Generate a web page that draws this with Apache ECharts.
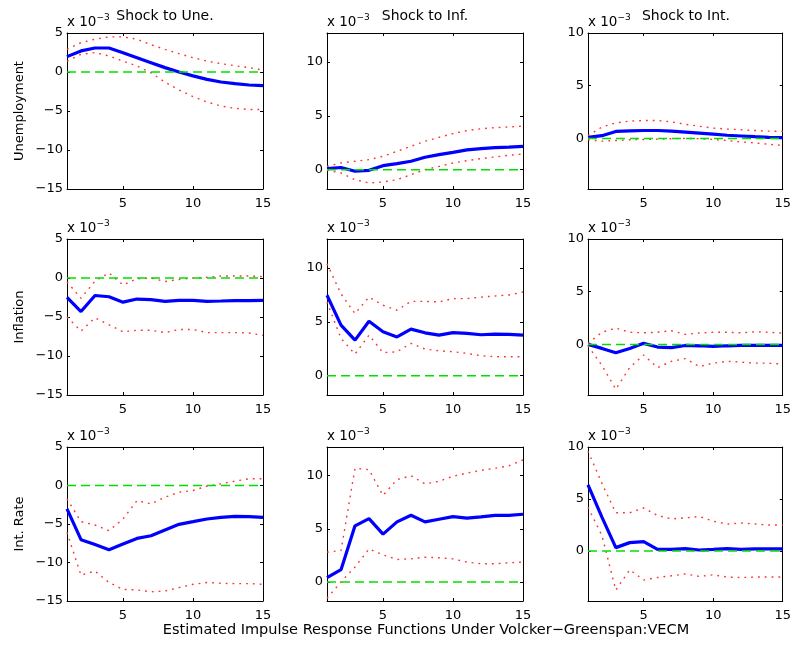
<!DOCTYPE html>
<html>
<head>
<meta charset="utf-8">
<script src="https://cdn.jsdelivr.net/npm/echarts@6/dist/echarts.min.js"></script>
<style>
html, body { margin: 0; padding: 0; background: #fff; }
#chart { width: 794px; height: 648px; }
</style>
</head>
<body>
<div id="chart"></div>
<script>
const FONT = '"DejaVu Sans", Verdana, sans-serif'

const horizon = [1, 2, 3, 4, 5, 6, 7, 8, 9, 10, 11, 12, 13, 14, 15]
const xTicks = [5, 10, 15]
const rowNames = ['Unemployment', 'Inflation', 'Int. Rate']
const shockNames = ['Shock to Une.', 'Shock to Inf.', 'Shock to Int.']
const caption = 'Estimated Impulse Response Functions Under Volcker\u2212Greenspan:VECM'
// y ticks / limits per column (values are x 10^-3)
const yTicks = [[-15, -10, -5, 0, 5], [0, 5, 10], [0, 5, 10]]
const yLimits = [[-15, 5], [-1.8, 12.7], [-4.8, 10]]
const zeroRef = [0, 0, 0, 0, 0, 0, 0, 0, 0, 0, 0, 0, 0, 0, 0]

// response of Unemployment
const uneUneMid = [1.97, 2.7, 3.08, 3.08, 2.48, 1.84, 1.2, 0.56, 0.0, -0.5, -0.94, -1.28, -1.5, -1.67, -1.75]
const uneUneHi  = [2.9, 3.76, 4.2, 4.5, 4.5, 4.2, 3.5, 2.9, 2.35, 1.84, 1.4, 1.07, 0.8, 0.55, 0.25]
const uneUneLo  = [1.4, 2.26, 2.5, 2.05, 1.4, 0.77, -0.1, -1.3, -2.3, -3.16, -3.85, -4.36, -4.66, -4.8, -4.8]
const uneInfMid = [0.1, 0.2, -0.15, -0.06, 0.37, 0.56, 0.78, 1.15, 1.4, 1.61, 1.83, 1.96, 2.05, 2.1, 2.17]
const uneInfHi  = [0.3, 0.62, 0.78, 0.93, 1.24, 1.7, 2.17, 2.64, 3.0, 3.35, 3.63, 3.8, 3.9, 3.97, 4.04]
const uneInfLo  = [-0.06, -0.3, -0.93, -1.24, -1.15, -0.93, -0.47, 0.0, 0.3, 0.62, 0.84, 1.02, 1.18, 1.33, 1.46]
const uneIntMid = [0.1, 0.26, 0.66, 0.72, 0.75, 0.75, 0.69, 0.6, 0.5, 0.4, 0.3, 0.23, 0.16, 0.1, 0.07]
const uneIntHi  = [0.26, 1.08, 1.48, 1.64, 1.7, 1.7, 1.57, 1.34, 1.15, 0.98, 0.89, 0.82, 0.75, 0.69, 0.66]
const uneIntLo  = [-0.13, -0.26, -0.2, -0.13, -0.1, -0.07, -0.03, 0.0, -0.03, -0.1, -0.2, -0.33, -0.43, -0.56, -0.66]

// response of Inflation
const infUneMid = [-2.48, -4.3, -2.24, -2.4, -3.1, -2.7, -2.78, -2.99, -2.86, -2.86, -2.99, -2.95, -2.9, -2.9, -2.86]
const infUneHi  = [-0.5, -2.6, -0.4, 0.65, -0.9, -0.1, 0.0, -0.45, -0.2, 0.0, 0.09, 0.26, 0.26, 0.26, 0.17]
const infUneLo  = [-5.0, -6.8, -5.1, -6.0, -6.9, -6.7, -6.7, -7.0, -6.6, -6.6, -7.0, -7.0, -7.0, -7.05, -7.35]
const infInfMid = [7.47, 4.7, 3.3, 5.06, 4.07, 3.6, 4.32, 3.98, 3.77, 4.0, 3.92, 3.8, 3.86, 3.83, 3.77]
const infInfHi  = [10.4, 7.6, 5.77, 7.3, 6.54, 6.08, 6.9, 6.9, 6.85, 7.16, 7.16, 7.3, 7.4, 7.5, 7.77]
const infInfLo  = [6.85, 3.46, 2.0, 3.77, 2.13, 2.22, 3.0, 2.47, 2.31, 2.22, 2.07, 1.85, 1.76, 1.76, 1.76]
const infIntMid = [0.0, -0.38, -0.8, -0.38, 0.1, -0.25, -0.3, -0.1, -0.13, -0.18, -0.13, -0.1, -0.1, -0.1, -0.1]
const infIntHi  = [0.1, 1.15, 1.55, 1.15, 1.1, 1.15, 1.3, 0.95, 1.08, 1.15, 1.15, 1.1, 1.2, 1.15, 1.08]
const infIntLo  = [-0.13, -2.0, -4.25, -2.2, -1.0, -2.2, -1.6, -1.35, -2.1, -1.78, -1.6, -1.68, -1.78, -1.78, -1.87]

// response of Int. Rate
const intUneMid = [-3.04, -7.04, -7.65, -8.35, -7.6, -6.87, -6.52, -5.78, -5.04, -4.7, -4.35, -4.13, -4.0, -4.04, -4.13]
const intUneHi  = [-1.74, -4.7, -5.13, -5.87, -4.35, -1.96, -2.39, -1.52, -0.87, -0.65, -0.09, 0.22, 0.57, 0.87, 0.87]
const intUneLo  = [-6.09, -11.65, -11.1, -12.6, -13.5, -13.56, -13.8, -13.7, -13.26, -12.83, -12.6, -12.7, -12.74, -12.74, -12.83]
const intInfMid = [0.4, 1.15, 5.28, 5.96, 4.5, 5.65, 6.27, 5.65, 5.9, 6.15, 6.0, 6.12, 6.27, 6.27, 6.37]
const intInfHi  = [2.8, 2.95, 10.7, 10.56, 8.14, 9.63, 10.0, 9.22, 9.47, 9.94, 10.25, 10.5, 10.7, 10.93, 11.49]
const intInfLo  = [-1.55, 0.0, 1.4, 3.1, 2.55, 2.11, 2.17, 2.33, 2.27, 2.17, 1.86, 1.71, 1.71, 1.8, 1.86]
const intIntMid = [6.35, 3.26, 0.33, 0.81, 0.91, 0.16, 0.16, 0.23, 0.1, 0.16, 0.23, 0.16, 0.2, 0.2, 0.2]
const intIntHi  = [9.6, 6.5, 3.68, 3.68, 4.14, 3.42, 3.09, 3.19, 3.32, 2.87, 2.6, 2.7, 2.6, 2.5, 2.5]
const intIntLo  = [4.2, 1.5, -3.75, -1.8, -2.77, -2.54, -2.38, -2.2, -2.44, -2.28, -2.5, -2.54, -2.5, -2.5, -2.5]

const panels = [
  [uneUneMid, uneUneLo, uneUneHi], [uneInfMid, uneInfLo, uneInfHi], [uneIntMid, uneIntLo, uneIntHi],
  [infUneMid, infUneLo, infUneHi], [infInfMid, infInfLo, infInfHi], [infIntMid, infIntLo, infIntHi],
  [intUneMid, intUneLo, intUneHi], [intInfMid, intInfLo, intInfHi], [intIntMid, intIntLo, intIntHi],
]

// layout
const colLeft = [67, 327, 588], plotW = 196
const rowTop = [33, 239, 447], plotH = [156, 156, 154]

const pts = arr => horizon.map((h, k) => [h, arr[k]])

const grids = [], xAxes = [], yAxes = [], series = [], texts = []
const axisLine = { show: true, onZero: false, lineStyle: { color: '#000', width: 1 } }
const tickStyle = { color: '#000', width: 1 }

panels.forEach(([mid, lo, hi], i) => {
  const r = Math.floor(i / 3), c = i % 3
  grids.push({ left: colLeft[c], top: rowTop[r], width: plotW, height: plotH[r] })

  xAxes.push({
    gridIndex: i, type: 'value', position: 'bottom', min: 1, max: 15,
    axisLine, splitLine: { show: false },
    axisTick: { inside: true, length: 3, customValues: xTicks, lineStyle: tickStyle },
    axisLabel: { customValues: xTicks, color: '#000', fontSize: 13, fontFamily: FONT, margin: 8 },
  })
  xAxes.push({
    gridIndex: i, type: 'value', position: 'top', min: 1, max: 15,
    axisLine, splitLine: { show: false },
    axisTick: { inside: true, length: 3, customValues: xTicks, lineStyle: tickStyle },
    axisLabel: { show: false },
  })
  yAxes.push({
    gridIndex: i, type: 'value', position: 'left', min: yLimits[c][0], max: yLimits[c][1],
    axisLine, splitLine: { show: false },
    axisTick: { inside: true, length: 3, customValues: yTicks[c], lineStyle: tickStyle },
    axisLabel: { customValues: yTicks[c], color: '#000', fontSize: 13, fontFamily: FONT, margin: 4,
      formatter: v => String(v).replace('-', '\u2212') },
    name: c === 0 ? rowNames[r] : '', nameLocation: 'middle', nameGap: 41,
    nameTextStyle: { color: '#000', fontSize: 13, fontFamily: FONT },
  })
  yAxes.push({
    gridIndex: i, type: 'value', position: 'right', min: yLimits[c][0], max: yLimits[c][1],
    axisLine, splitLine: { show: false },
    axisTick: { inside: true, length: 3, customValues: yTicks[c], lineStyle: tickStyle },
    axisLabel: { show: false },
  })

  const base = { type: 'line', xAxisIndex: 2 * i, yAxisIndex: 2 * i, symbol: 'none', silent: true, animation: false }
  const dotted = { color: '#ff3030', width: 1.4, type: [1.8, 5] }
  series.push({ ...base, data: pts(mid), lineStyle: { color: '#0000ff', width: 3.2 }, z: 2 })
  series.push({ ...base, data: pts(lo), lineStyle: dotted, z: 3 })
  series.push({ ...base, data: pts(hi), lineStyle: dotted, z: 3 })
  series.push({ ...base, data: pts(zeroRef), lineStyle: { color: '#00e000', width: 1.5, type: [9, 5] }, z: 4 })

  // x 10^-3 multiplier
  texts.push({
    type: 'text', x: colLeft[c], y: rowTop[r] - 20,
    style: {
      text: '{b|x 10}{s|\u22123}', fill: '#000', textVerticalAlign: 'top',
      rich: {
        b: { fontSize: 13.5, fontFamily: FONT, lineHeight: 16, verticalAlign: 'bottom', fill: '#000' },
        s: { fontSize: 9, fontFamily: FONT, lineHeight: 16, verticalAlign: 'top', fill: '#000' },
      },
    },
  })
})

shockNames.forEach((name, c) => {
  texts.push({
    type: 'text', x: colLeft[c] + plotW / 2, y: 16,
    style: { text: name, fill: '#000', fontSize: 14, fontFamily: FONT, textAlign: 'center', textVerticalAlign: 'middle' },
  })
})
texts.push({
  type: 'text', x: 426, y: 630,
  style: { text: caption, fill: '#000', fontSize: 14.5, fontFamily: FONT, textAlign: 'center', textVerticalAlign: 'middle' },
})

const chart = echarts.init(document.getElementById('chart'), null, { renderer: 'canvas' })
chart.setOption({
  animation: false,
  backgroundColor: '#fff',
  grid: grids,
  xAxis: xAxes,
  yAxis: yAxes,
  series,
  graphic: texts,
})
</script>
</body>
</html>
